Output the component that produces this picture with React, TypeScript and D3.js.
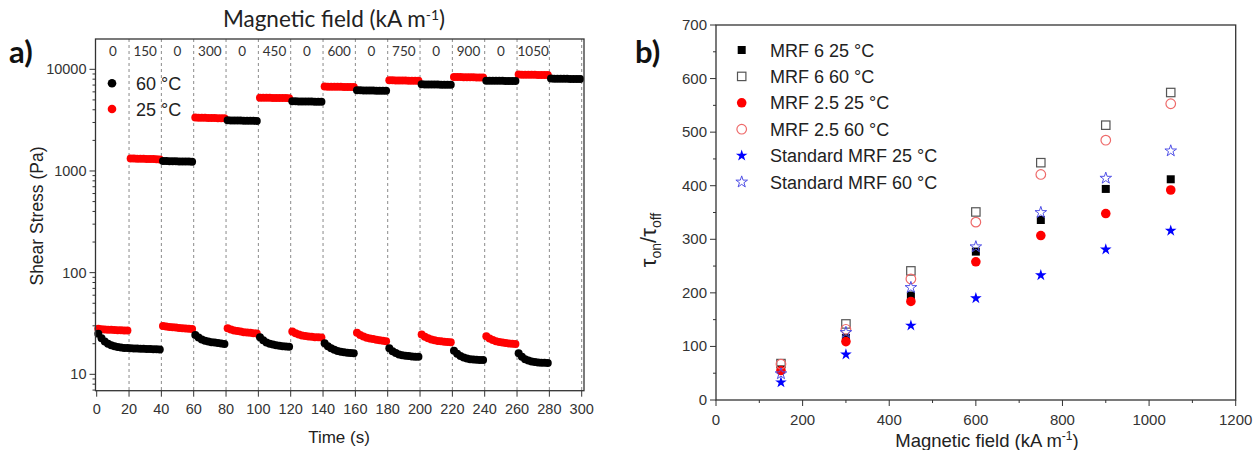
import React from "react";
import * as d3 from "d3";

const W = 1255;
const H = 450;

// ---------- Panel a data ----------
const fieldLabels = ["0", "150", "0", "300", "0", "450", "0", "600", "0", "750", "0", "900", "0", "1050"];
const fieldLabelStarts = [0, 20, 40, 60, 80, 100, 120, 140, 160, 180, 200, 220, 240, 260];
const dashedTimes = [20, 40, 60, 80, 100, 120, 140, 160, 180, 200, 220, 240, 260, 280, 300];
const timeTicks = [0, 20, 40, 60, 80, 100, 120, 140, 160, 180, 200, 220, 240, 260, 280, 300];
const stressTicks = [10, 100, 1000, 10000];

// 25 °C (red), segment start times (s) and shear stress samples every 2 s
const segStart25 = [0, 20, 40, 60, 80, 100, 120, 140, 160, 180, 200, 220, 240, 260];
const stress25 = [
  [28.0, 27.8, 27.6, 27.5, 27.4, 27.3, 27.2, 27.1, 27.0, 26.9],
  [1330, 1325, 1322, 1320, 1318, 1315, 1312, 1310, 1305, 1300],
  [29.9, 29.5, 29.2, 29.0, 28.8, 28.6, 28.4, 28.3, 28.1, 27.9],
  [3350, 3340, 3335, 3330, 3325, 3320, 3315, 3310, 3305, 3300],
  [28.4, 27.6, 27.0, 26.6, 26.3, 26.0, 25.8, 25.6, 25.4, 25.2],
  [5260, 5250, 5245, 5240, 5235, 5230, 5225, 5220, 5210, 5200],
  [26.3, 25.3, 24.6, 24.1, 23.8, 23.6, 23.4, 23.2, 23.1, 23.0],
  [6760, 6750, 6740, 6730, 6725, 6720, 6710, 6705, 6700, 6690],
  [25.6, 24.4, 23.5, 22.9, 22.5, 22.2, 21.9, 21.6, 21.4, 21.2],
  [7800, 7790, 7780, 7770, 7760, 7750, 7740, 7730, 7720, 7710],
  [24.6, 23.4, 22.6, 22.0, 21.6, 21.3, 21.1, 20.9, 20.8, 20.7],
  [8400, 8390, 8380, 8370, 8360, 8350, 8340, 8330, 8320, 8310],
  [23.7, 22.5, 21.7, 21.2, 20.8, 20.5, 20.3, 20.1, 20.0, 19.9],
  [8870, 8860, 8850, 8840, 8830, 8820, 8810, 8800, 8790, 8780],
];

// 60 °C (black)
const segStart60 = [0, 40, 60, 80, 100, 120, 140, 160, 180, 200, 220, 240, 260, 280];
const stress60 = [
  [25.0, 22.6, 21.0, 20.0, 19.3, 18.9, 18.6, 18.4, 18.2, 18.1, 18.0, 17.9, 17.9, 17.8, 17.8, 17.7, 17.7, 17.6, 17.6, 17.5],
  [1255, 1252, 1250, 1248, 1245, 1243, 1240, 1240, 1238, 1235],
  [24.4, 23.0, 22.0, 21.4, 21.0, 20.7, 20.5, 20.3, 20.1, 19.9],
  [3150, 3145, 3140, 3135, 3130, 3125, 3120, 3118, 3115, 3110],
  [23.1, 21.6, 20.6, 20.0, 19.6, 19.3, 19.1, 18.9, 18.8, 18.7],
  [4850, 4840, 4835, 4830, 4825, 4820, 4815, 4810, 4805, 4800],
  [20.2, 18.9, 18.0, 17.4, 17.0, 16.7, 16.5, 16.3, 16.2, 16.1],
  [6220, 6210, 6200, 6190, 6185, 6180, 6170, 6165, 6160, 6150],
  [18.0, 16.9, 16.2, 15.7, 15.4, 15.2, 15.1, 15.0, 14.9, 14.9],
  [7120, 7110, 7100, 7090, 7085, 7080, 7070, 7065, 7060, 7050],
  [17.1, 15.9, 15.1, 14.6, 14.3, 14.1, 14.0, 13.9, 13.8, 13.8],
  [7740, 7730, 7720, 7710, 7705, 7700, 7690, 7685, 7680, 7670],
  [16.1, 14.9, 14.1, 13.7, 13.4, 13.2, 13.1, 13.0, 13.0, 12.9],
  [8100, 8090, 8080, 8070, 8065, 8060, 8050, 8045, 8040, 8030],
];
const sampleStep = 2;
const sampleOffset = 1;

// ---------- Panel b data ----------
const fields = [150, 300, 450, 600, 750, 900, 1050];
const mrf6_25 = [57, 116, 195, 277, 336, 394, 412];
const mrf6_60 = [68, 142, 241, 351, 443, 513, 574];
const mrf25_25 = [55, 109, 184, 258, 307, 348, 392];
const mrf25_60 = [67, 132, 226, 332, 421, 485, 553];
const std_25 = [33, 85, 139, 190, 233, 281, 316];
const std_60 = [49, 126, 210, 286, 350, 414, 465];
const legendLabels = [
  "MRF 6 25 °C",
  "MRF 6 60 °C",
  "MRF 2.5 25 °C",
  "MRF 2.5 60 °C",
  "Standard MRF 25 °C",
  "Standard MRF 60 °C",
];
const bXTicks = [0, 200, 400, 600, 800, 1000, 1200];
const bYTicks = [0, 100, 200, 300, 400, 500, 600, 700];

const AX = "#333";
const FONT = "'Liberation Sans', Arial, sans-serif";
const CAL = "Lato, 'Open Sans', sans-serif";

function toPoints(starts: number[], values: number[][]) {
  const pts: { t: number; v: number }[] = [];
  starts.forEach((s, i) => {
    values[i].forEach((v, j) => pts.push({ t: s + sampleOffset + j * sampleStep, v }));
  });
  return pts;
}

type Kind = "sq" | "osq" | "ci" | "oci" | "st" | "ost";

function Marker({ kind, x, y }: { kind: Kind; x: number; y: number }) {
  if (kind === "sq") return <rect x={x - 4} y={y - 4} width={8} height={8} fill="#000" />;
  if (kind === "osq")
    return <rect x={x - 4.2} y={y - 4.2} width={8.4} height={8.4} fill="none" stroke="#555" strokeWidth={1.2} />;
  if (kind === "ci") return <circle cx={x} cy={y} r={4.8} fill="#f00" />;
  if (kind === "oci") return <circle cx={x} cy={y} r={4.8} fill="none" stroke="#ee6a6a" strokeWidth={1.2} />;
  const star = d3.symbol(d3.symbolStar, 42)() as string;
  if (kind === "st") return <path d={star} transform={`translate(${x},${y})`} fill="#0000ff" />;
  return <path d={star} transform={`translate(${x},${y})`} fill="none" stroke="#5050e6" strokeWidth={1} />;
}

export default function App() {
  // ----- panel a scales -----
  const xa = d3.scaleLinear().domain([0, 300]).range([96.7, 581.7]);
  const ya = d3.scaleLog().domain([6.9, 19870]).range([390.7, 39]);
  const aL = 95.5, aR = 584, aT = 39, aB = 390.7;
  const pts25 = toPoints(segStart25, stress25);
  const pts60 = toPoints(segStart60, stress60);
  const logTicks = ya.ticks();

  // ----- panel b scales -----
  const xb = d3.scaleLinear().domain([0, 1200]).range([716, 1235.7]);
  const yb = d3.scaleLinear().domain([0, 700]).range([400, 25]);
  const bL = 716, bR = 1235.7, bT = 25, bB = 400;
  const series: { kind: Kind; vals: number[] }[] = [
    { kind: "sq", vals: mrf6_25 },
    { kind: "osq", vals: mrf6_60 },
    { kind: "ci", vals: mrf25_25 },
    { kind: "oci", vals: mrf25_60 },
    { kind: "st", vals: std_25 },
    { kind: "ost", vals: std_60 },
  ];
  const legendY = [50, 76.4, 102.8, 129.2, 155.6, 182];
  const bXMinor = [100, 300, 500, 700, 900, 1100];
  const bYMinor = [50, 150, 250, 350, 450, 550, 650];

  return (
    <svg width={W} height={H} style={{ position: "absolute", left: 0, top: 0, background: "#fff" }}>
      {/* ================= PANEL A ================= */}
      <text x={9} y={63} fontFamily={CAL} fontWeight="bold" fontSize={31} fill="#111">a)</text>
      <text x={334} y={27} fontFamily={CAL} fontSize={22.5} fill="#222" textAnchor="middle">
        Magnetic field (kA m<tspan dy={-7} fontSize={14}>-1</tspan><tspan dy={7}>)</tspan>
      </text>

      {/* dashed lines */}
      {dashedTimes.map((t) => (
        <line key={"d" + t} x1={xa(t)} x2={xa(t)} y1={aT} y2={aB} stroke="#8a8a8a" strokeWidth={1} strokeDasharray="3,3" />
      ))}

      {/* field labels */}
      {fieldLabels.map((l, i) => (
        <text key={"f" + i} x={xa(fieldLabelStarts[i] + 10)} y={56} fontFamily={CAL} fontSize={13.5} fill="#333" textAnchor="middle">
          {l}
        </text>
      ))}

      {/* data */}
      {pts25.map((p, i) => (
        <circle key={"r" + i} cx={xa(p.t)} cy={ya(p.v)} r={4} fill="#ff0000" />
      ))}
      {pts60.map((p, i) => (
        <circle key={"k" + i} cx={xa(p.t)} cy={ya(p.v)} r={4} fill="#000" />
      ))}

      {/* frame */}
      <rect x={aL} y={aT} width={aR - aL} height={aB - aT} fill="none" stroke={AX} strokeWidth={1.3} />

      {/* y ticks */}
      {logTicks.map((v, i) => {
        const major = stressTicks.includes(v);
        return (
          <line key={"yt" + i} x1={aL - (major ? 6 : 3)} x2={aL} y1={ya(v)} y2={ya(v)} stroke={AX} strokeWidth={1} />
        );
      })}
      {stressTicks.map((v) => (
        <text key={"yl" + v} x={aL - 9} y={ya(v) + 5} fontFamily={FONT} fontSize={14.5} fill={AX} textAnchor="end">
          {v}
        </text>
      ))}
      {/* x ticks */}
      {timeTicks.map((t) => (
        <g key={"xt" + t}>
          <line x1={xa(t)} x2={xa(t)} y1={aB} y2={aB + 6} stroke={AX} strokeWidth={1} />
          <text x={xa(t)} y={aB + 23} fontFamily={FONT} fontSize={14.5} fill={AX} textAnchor="middle">
            {t}
          </text>
        </g>
      ))}
      <text x={339} y={443} fontFamily={FONT} fontSize={17} fill="#222" textAnchor="middle">Time (s)</text>
      <text transform="translate(43,216) rotate(-90)" fontFamily={FONT} fontSize={17.5} fill="#222" textAnchor="middle">
        Shear Stress (Pa)
      </text>

      {/* legend */}
      <circle cx={112} cy={83.3} r={4.3} fill="#000" />
      <circle cx={112} cy={109} r={4.3} fill="#ff0000" />
      <text x={136} y={89.5} fontFamily={FONT} fontSize={18} fill="#222">60 °C</text>
      <text x={136} y={115.5} fontFamily={FONT} fontSize={18} fill="#222">25 °C</text>

      {/* ================= PANEL B ================= */}
      <text x={635} y={63} fontFamily={CAL} fontWeight="bold" fontSize={31} fill="#111">b)</text>

      <rect x={bL} y={bT} width={bR - bL} height={bB - bT} fill="none" stroke={AX} strokeWidth={1.3} />

      {bYTicks.map((v) => (
        <g key={"byt" + v}>
          <line x1={bL - 6} x2={bL} y1={yb(v)} y2={yb(v)} stroke={AX} strokeWidth={1} />
          <text x={bL - 9} y={yb(v) + 5} fontFamily={FONT} fontSize={15} fill={AX} textAnchor="end">{v}</text>
        </g>
      ))}
      {bYMinor.map((v) => (
        <line key={"bym" + v} x1={bL - 3} x2={bL} y1={yb(v)} y2={yb(v)} stroke={AX} strokeWidth={1} />
      ))}
      {bXTicks.map((v) => (
        <g key={"bxt" + v}>
          <line x1={xb(v)} x2={xb(v)} y1={bB} y2={bB + 6} stroke={AX} strokeWidth={1} />
          <text x={xb(v)} y={bB + 25} fontFamily={FONT} fontSize={15} fill={AX} textAnchor="middle">{v}</text>
        </g>
      ))}
      {bXMinor.map((v) => (
        <line key={"bxm" + v} x1={xb(v)} x2={xb(v)} y1={bB} y2={bB + 3} stroke={AX} strokeWidth={1} />
      ))}

      {series.map((s) =>
        s.vals.map((v, i) => <Marker key={s.kind + i} kind={s.kind} x={xb(fields[i])} y={yb(v)} />)
      )}

      {/* legend */}
      {series.map((s, i) => (
        <g key={"lg" + i}>
          <Marker kind={s.kind} x={741.7} y={legendY[i]} />
          <text x={770} y={legendY[i] + 6.5} fontFamily={FONT} fontSize={18} fill="#222">{legendLabels[i]}</text>
        </g>
      ))}

      <text x={987} y={447} fontFamily={FONT} fontSize={18.5} fill="#222" textAnchor="middle">
        Magnetic field (kA m<tspan dy={-7} fontSize={12}>-1</tspan><tspan dy={7}>)</tspan>
      </text>
      <text transform="translate(656,240) rotate(-90)" fontFamily={FONT} fontSize={22} fill="#222" textAnchor="middle">
        τ<tspan dy={5} fontSize={14}>on</tspan><tspan dy={-5}>/τ</tspan><tspan dy={5} fontSize={14}>off</tspan>
      </text>
    </svg>
  );
}
